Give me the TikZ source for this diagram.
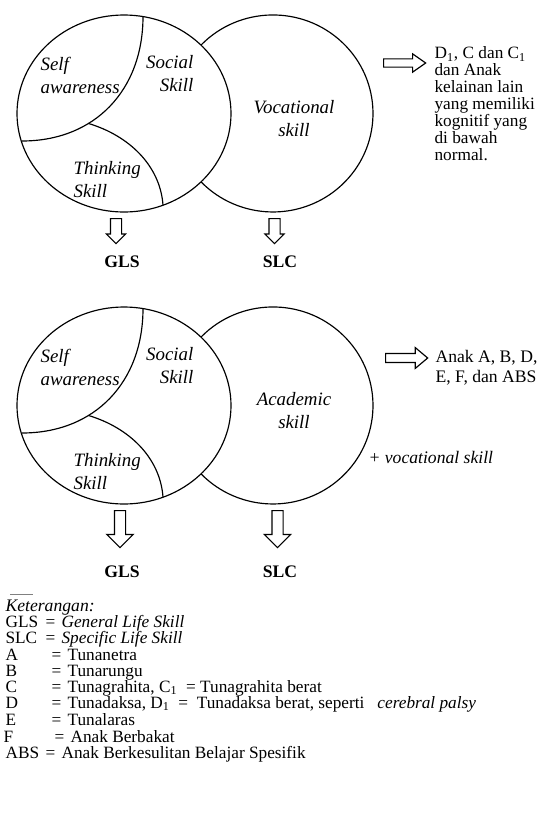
\documentclass[tikz,border=0pt]{standalone}
\usepackage{fontspec}
\setmainfont{Liberation Serif}
\usetikzlibrary{positioning,shapes.arrows}

\tikzset{
  skill/.style={font=\fontsize{10.5}{12.8}\selectfont\itshape, inner sep=0pt},
  txt/.style={font=\fontsize{9.6}{9.2}\selectfont, inner sep=0pt},
  code/.style={font=\fontsize{9.8}{9.2}\selectfont\bfseries, inner sep=0pt},
  blockarr/.style={draw, single arrow, inner xsep=0pt, anchor=tail},
}

\begin{document}
\begin{tikzpicture}[x=0.556pt, y=-0.556pt, line width=0.65pt]
  \useasboundingbox (0,0) rectangle (537,813);

  % the two diagrams
  \foreach \oy/\sk/\n in {0/Vocational/t,292/Academic/b}{
    \draw (124,113.5+\oy) ellipse [x radius=107, y radius=98.5];
    \draw (201,45.1+\oy) arc [start angle=-136.05, end angle=136.05, x radius=100, y radius=98.5];
    \draw (143,16.5+\oy) .. controls (143,90+\oy) and (95,141+\oy) .. (22,141+\oy)
      coordinate[pos=0.65] (sa\n);
    \draw (sa\n) .. controls +(40,12) and +(-3,-40) .. (163,205+\oy);
    \node[skill, align=left, anchor=west] (self\n) at (40,75+\oy) {Self\\awareness};
    \node[skill, align=right, anchor=east] (social\n) at (194,74+\oy) {Social\\Skill};
    \node[skill, align=left, anchor=west] (think\n) at (73,180+\oy) {Thinking\\Skill};
    \node[skill, align=center] (spec\n) at (294,119+\oy) {\sk\\skill};
  }

  % arrows to GLS / SLC
  \node[blockarr, rotate=-90, minimum height=13.9pt, inner ysep=2.78pt,
    single arrow head extend=2.2pt] (glsarrt) at (116,218) {};
  \node[blockarr, rotate=-90, minimum height=13.9pt, inner ysep=2.78pt,
    single arrow head extend=2.2pt] (slcarrt) at (274.5,218) {};
  \node[code] (glst) at (122,262) {GLS};
  \node[code] (slct) at (280,262) {SLC};

  \node[blockarr, rotate=-90, minimum height=20.6pt, inner ysep=2.78pt,
    single arrow head extend=4.2pt] (glsarrb) at (120,510) {};
  \node[blockarr, rotate=-90, minimum height=20.6pt, inner ysep=2.78pt,
    single arrow head extend=4.2pt] (slcarrb) at (277.5,510) {};
  \node[code] (glsb) at (122,572) {GLS};
  \node[code] (slcb) at (280,572) {SLC};

  % arrows to the groups of children
  \node[blockarr, minimum height=23.4pt, inner ysep=1.95pt,
    single arrow head extend=2.8pt, single arrow tip angle=70] (grouparrt) at (383,63) {};
  \node[txt, align=left, anchor=north west, font=\fontsize{9.6}{9.4}\selectfont] (groupt) at (434,46)
    {D\textsubscript{1}, C dan C\textsubscript{1}\\dan Anak\\kelainan lain\\yang memiliki\\kognitif yang\\di bawah\\normal.};
  \node[blockarr, minimum height=23.4pt, inner ysep=2.2pt,
    single arrow head extend=3.3pt, single arrow tip angle=80] (grouparrb) at (385,358) {};
  \node[txt, align=left, anchor=west, font=\fontsize{9.8}{11.1}\selectfont] (groupb) at (435,368)
    {Anak A, B, D,\\E, F, dan ABS};
  \node[txt, anchor=west, font=\fontsize{9.8}{11}\selectfont\itshape] (plusvoc) at (368,457) {+ vocational skill};

  % legend
  \draw[gray, line width=0.4pt] (10,594) -- (33,594);
  \node[txt, anchor=base west, font=\fontsize{9.8}{11}\selectfont\itshape] (ket) at (5,611) {Keterangan:};
  \foreach \y/\k/\kx/\ex/\v [count=\i] in {
      622/GLS/5/45/{\textit{General Life Skill}},
      638/SLC/5/45/{\textit{Specific Life Skill}},
      655/A/5/51/{Tunanetra},
      671/B/5/51/{Tunarungu},
      687/C/5/51/{Tunagrahita, C\textsubscript{1} \ = Tunagrahita berat},
      703/D/5/51/{Tunadaksa, D\textsubscript{1} \ = \ Tunadaksa berat, seperti \ \ \textit{cerebral palsy}},
      720/E/5/51/{Tunalaras},
      737/F/3/54/{Anak Berbakat},
      753/ABS/5/45/{Anak Berkesulitan Belajar Spesifik}}{
    \node[txt, anchor=base west] (key\i) at (\kx,\y+5) {\k};
    \node[txt, anchor=base west] (eq\i) at (\ex,\y+5) {=};
    \node[txt, anchor=base west] (val\i) at (\ex+16,\y+5) {\v};
  }
\end{tikzpicture}
\end{document}
